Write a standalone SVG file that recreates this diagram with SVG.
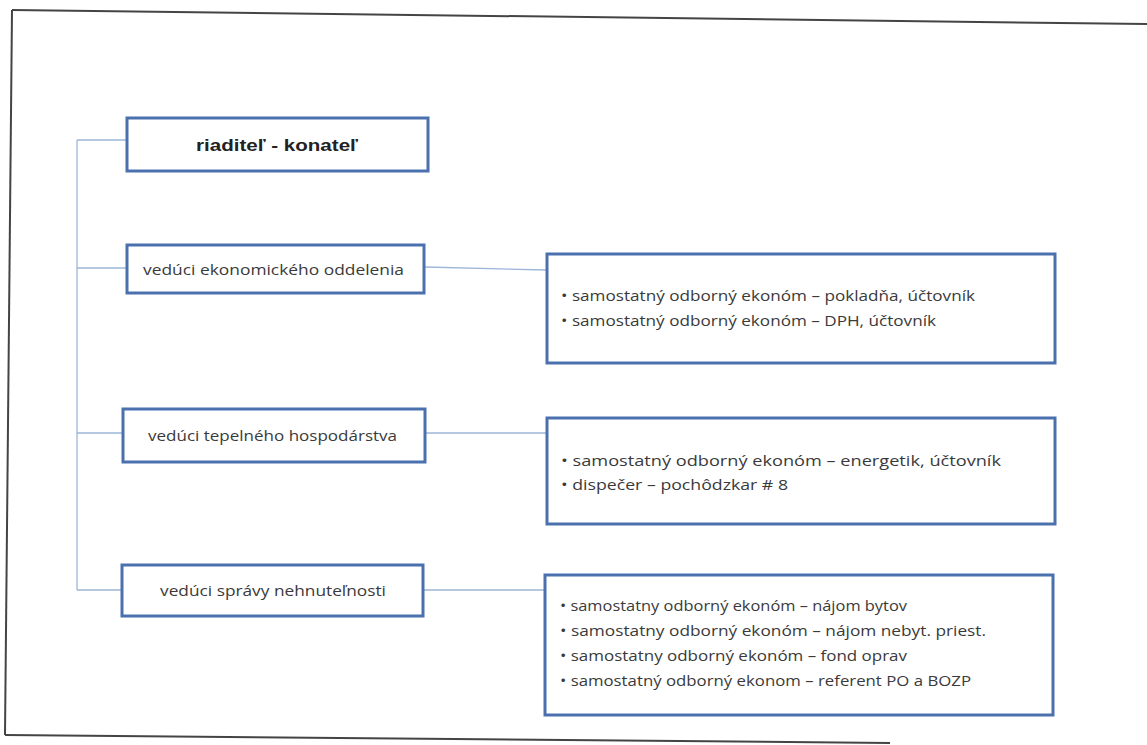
<svg xmlns="http://www.w3.org/2000/svg" width="1147" height="745" viewBox="0 0 1147 745">
<style>
.box{fill:#fff;stroke:#4a70ad;stroke-width:3}
.con{fill:none;stroke:#9db6d8;stroke-width:1.3}
.frame{fill:none;stroke:#444;stroke-width:2}
.lt{font-family:"Open Sans","Liberation Sans",sans-serif;font-size:14.5px;fill:#3a3a3a}
.rt{font-family:"Open Sans","Liberation Sans",sans-serif;font-size:14px;fill:#3a3a3a}
.bt{font-family:"Liberation Sans",sans-serif;font-size:17px;font-weight:bold;fill:#222}
</style>
<rect width="1147" height="745" fill="#fff"/>
<g id="frame">
<path class="frame" d="M12,10 L1147,24"/>
<path class="frame" d="M12,10 L5,735"/>
<path class="frame" d="M5,735 L890,743"/>
</g>
<g id="connectors">
<path class="con" d="M77,140 L77,590"/>
<path class="con" d="M77,140 L127,140"/>
<path class="con" d="M77,268 L127,268"/>
<path class="con" d="M77,433 L123,433"/>
<path class="con" d="M77,590 L122,590"/>
<path class="con" d="M425,267 L547,270"/>
<path class="con" d="M425,433 L547,433"/>
<path class="con" d="M423,590 L545,590"/>
</g>
<g id="n-riaditel">
<rect class="box" x="127" y="118" width="301" height="53"/>
<text class="bt" x="277" y="151" text-anchor="middle" textLength="162" lengthAdjust="spacingAndGlyphs">riaditeľ - konateľ</text>
</g>
<g id="n-ekonom">
<rect class="box" x="127" y="245" width="297" height="48"/>
<text class="lt" x="143" y="275" textLength="261" lengthAdjust="spacingAndGlyphs">vedúci ekonomického  oddelenia</text>
</g>
<g id="n-tepel">
<rect class="box" x="123" y="409" width="302" height="53"/>
<text class="lt" x="148" y="441" textLength="249" lengthAdjust="spacingAndGlyphs">vedúci tepelného hospodárstva</text>
</g>
<g id="n-sprava">
<rect class="box" x="122" y="565" width="301" height="51"/>
<text class="lt" x="160" y="596" textLength="226" lengthAdjust="spacingAndGlyphs">vedúci správy nehnuteľnosti</text>
</g>
<g id="n-ekonom-staff">
<rect class="box" x="547" y="254" width="508" height="109"/>
<text class="rt" x="561" y="301" textLength="414" lengthAdjust="spacingAndGlyphs">• samostatný odborný ekonóm  – pokladňa, účtovník</text>
<text class="rt" x="561" y="326" textLength="375" lengthAdjust="spacingAndGlyphs">• samostatný odborný ekonóm  – DPH, účtovník</text>
</g>
<g id="n-tepel-staff">
<rect class="box" x="547" y="418" width="508" height="106"/>
<text class="rt" x="561" y="466" textLength="440" lengthAdjust="spacingAndGlyphs">• samostatný odborný ekonóm  – energetik, účtovník</text>
<text class="rt" x="561" y="490" textLength="227" lengthAdjust="spacingAndGlyphs">• dispečer – pochôdzkar  # 8</text>
</g>
<g id="n-sprava-staff">
<rect class="box" x="545" y="575" width="508" height="140"/>
<text class="rt" x="560" y="611" textLength="347" lengthAdjust="spacingAndGlyphs">• samostatny odborný ekonóm  – nájom bytov</text>
<text class="rt" x="560" y="636" textLength="426" lengthAdjust="spacingAndGlyphs">• samostatny odborný ekonóm  – nájom nebyt. priest.</text>
<text class="rt" x="560" y="661" textLength="347" lengthAdjust="spacingAndGlyphs">• samostatny odborný ekonóm  – fond oprav</text>
<text class="rt" x="560" y="686" textLength="411" lengthAdjust="spacingAndGlyphs">• samostatný odborný ekonom  – referent PO a BOZP</text>
</g>
</svg>
